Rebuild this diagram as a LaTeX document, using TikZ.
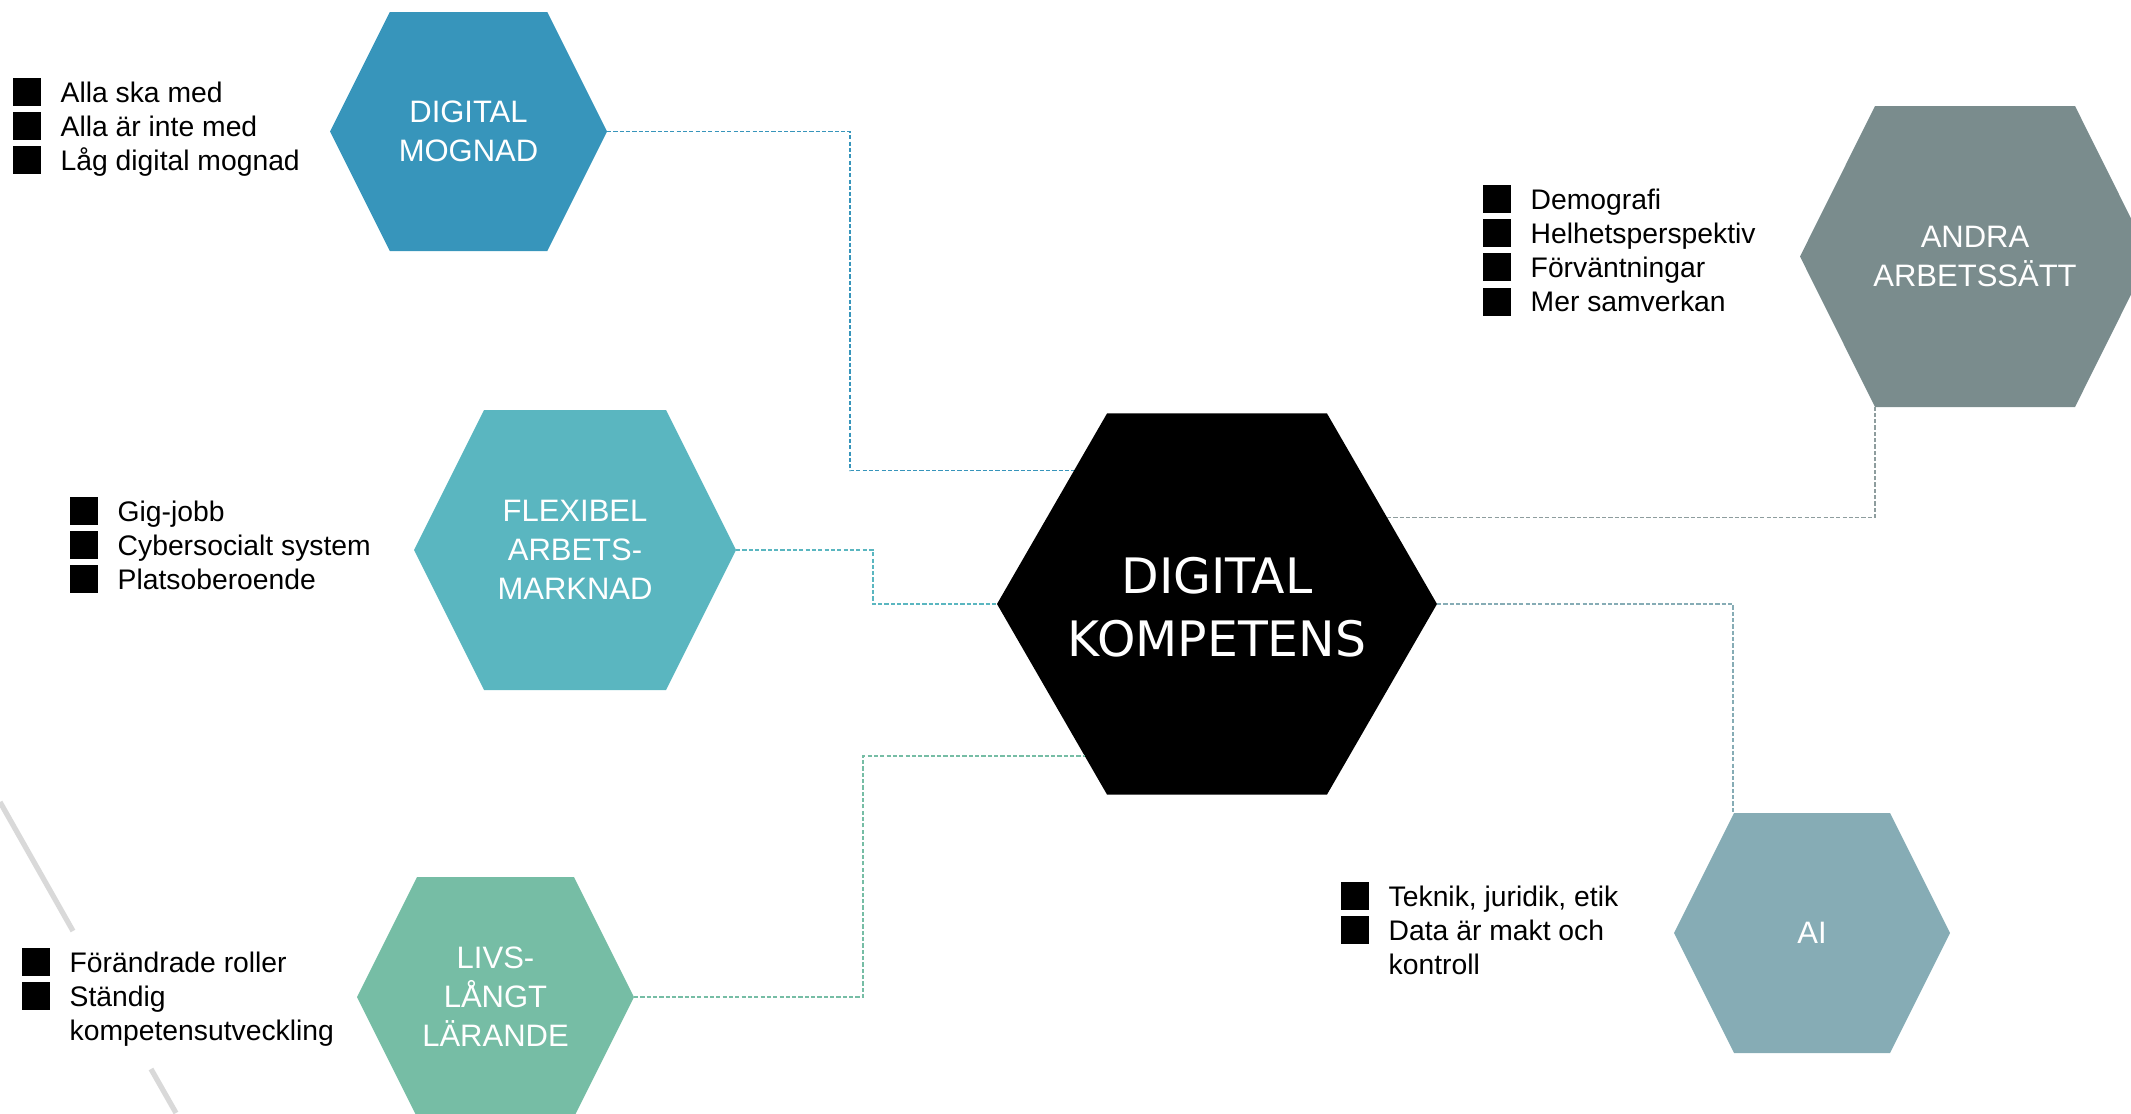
\documentclass[tikz,border=0pt]{standalone}
\usepackage{fontspec}
\setmainfont{Liberation Sans}
\newfontfamily\dinfont{DejaVu Sans}
\usetikzlibrary{shapes.geometric,backgrounds}

\definecolor{mognad}{HTML}{3795BB}
\definecolor{flexibel}{HTML}{5AB6C0}
\definecolor{livs}{HTML}{76BDA5}
\definecolor{andra}{HTML}{7A8C8D}
\definecolor{aiblue}{HTML}{86ACB5}
\definecolor{kant}{HTML}{D9D9D9}

\newcommand{\bx}{\makebox[4.8mm][l]{\raisebox{-1.15pt}{\rule{2.8mm}{2.8mm}}}}
\newcommand{\punkter}[1]{\begin{tabular}[t]{@{}l@{}}#1\end{tabular}}
% hexagon behind a named node: node, colour, cut of the corners
\newcommand{\hexfill}[3]{%
  \begin{pgfonlayer}{background}
    \fill[#2] (#1.west) -- ([xshift=#3]#1.north west) -- ([xshift=-#3]#1.north east) -- (#1.east)
      -- ([xshift=-#3]#1.south east) -- ([xshift=#3]#1.south west) -- cycle;
  \end{pgfonlayer}}

\begin{document}
\begin{tikzpicture}[x=0.1mm, y=-0.1mm, font=\fontsize{8.05pt}{9.67pt}\selectfont]
     \tikzstyle{hexnode}=[inner sep=0pt, outer sep=0pt, text=white, align=center, font=\fontsize{8.82pt}{11.1pt}\selectfont]
     \tikzstyle{mainnode}=[regular polygon, regular polygon sides=6, inner sep=0pt, outer sep=0pt, fill=black, minimum size=44mm]
     \tikzstyle{listnode}=[anchor=base west, inner sep=0pt]
     \tikzstyle{linkedge}=[line width=0.4pt, dash pattern=on 1.2pt off 0.6pt]
     \useasboundingbox (0,0) rectangle (2131,1113);
     % grey edge at the lower left
     \draw[kant, line width=1.5pt] (0,802) -- (73,931);
     \draw[kant, line width=1.5pt] (151,1069) -- (176,1113);
     % hexagons
     \node[mainnode] (kom) at (1217,604) {};
     \node[text=white, align=center, inner sep=0pt, font=\dinfont\fontsize{13.9pt}{17.9pt}\selectfont] (komtext) at ([yshift=-0.9pt]kom.center) {DIGITAL\\KOMPETENS};
     \node[hexnode, minimum width=27.7mm, minimum height=23.9mm] (mog) at (468.5,131.5) {DIGITAL\\MOGNAD};
     \hexfill{mog}{mognad}{5.975mm}
     \node[hexnode, minimum width=32.2mm, minimum height=28mm] (flex) at (575,550) {FLEXIBEL\\ARBETS-\\MARKNAD};
     \hexfill{flex}{flexibel}{7mm}
     \node[hexnode, minimum width=27.7mm, minimum height=24mm] (livs) at (495.5,997) {LIVS-\\LÅNGT\\LÄRANDE};
     \hexfill{livs}{livs}{6mm}
     \node[hexnode, minimum width=27.6mm, minimum height=24mm] (ai) at (1812,933) {AI};
     \hexfill{ai}{aiblue}{6mm}
     \node[hexnode, minimum width=35mm, minimum height=30.1mm] (andra) at (1975,256.5) {ANDRA\\ARBETSSÄTT};
     \hexfill{andra}{andra}{7.5mm}
     % bends
     \coordinate (xa) at (850,0);
     \coordinate (xb) at (873,0);
     \coordinate (xc) at (863,0);
     \coordinate (xd) at (1733,0);
     \coordinate (xe) at (1875,0);
     % connectors
     \draw[linkedge, mognad] (mog.east) -| (kom.137.8 -| xa) -- (kom.137.8);
     \draw[linkedge, flexibel] (flex.east) -| (kom.west -| xb) -- (kom.west);
     \draw[linkedge, livs] (livs.east) -| (kom.229.3 -| xc) -- (kom.229.3);
     \draw[linkedge, andra!85] (kom.27.5) -| (andra.south -| xe);
     \draw[linkedge, aiblue] (kom.east) -| (ai.north -| xd);
     % lists
     \node[listnode] (lmog) at (12,102) {\punkter{\bx Alla ska med\\ \bx Alla är inte med\\ \bx Låg digital mognad}};
     \node[listnode] (lflex) at (69,521) {\punkter{\bx Gig-jobb\\ \bx Cybersocialt system\\ \bx Platsoberoende}};
     \node[listnode] (llivs) at (21,972) {\punkter{\bx Förändrade roller\\ \bx Ständig\\ \hspace{4.8mm}kompetensutveckling}};
     \node[listnode] (landra) at (1482,209) {\punkter{\bx Demografi\\ \bx Helhetsperspektiv\\ \bx Förväntningar\\ \bx Mer samverkan}};
     \node[listnode] (lai) at (1340,906) {\punkter{\bx Teknik, juridik, etik\\ \bx Data är makt och\\ \hspace{4.8mm}kontroll}};
\end{tikzpicture}
\end{document}
